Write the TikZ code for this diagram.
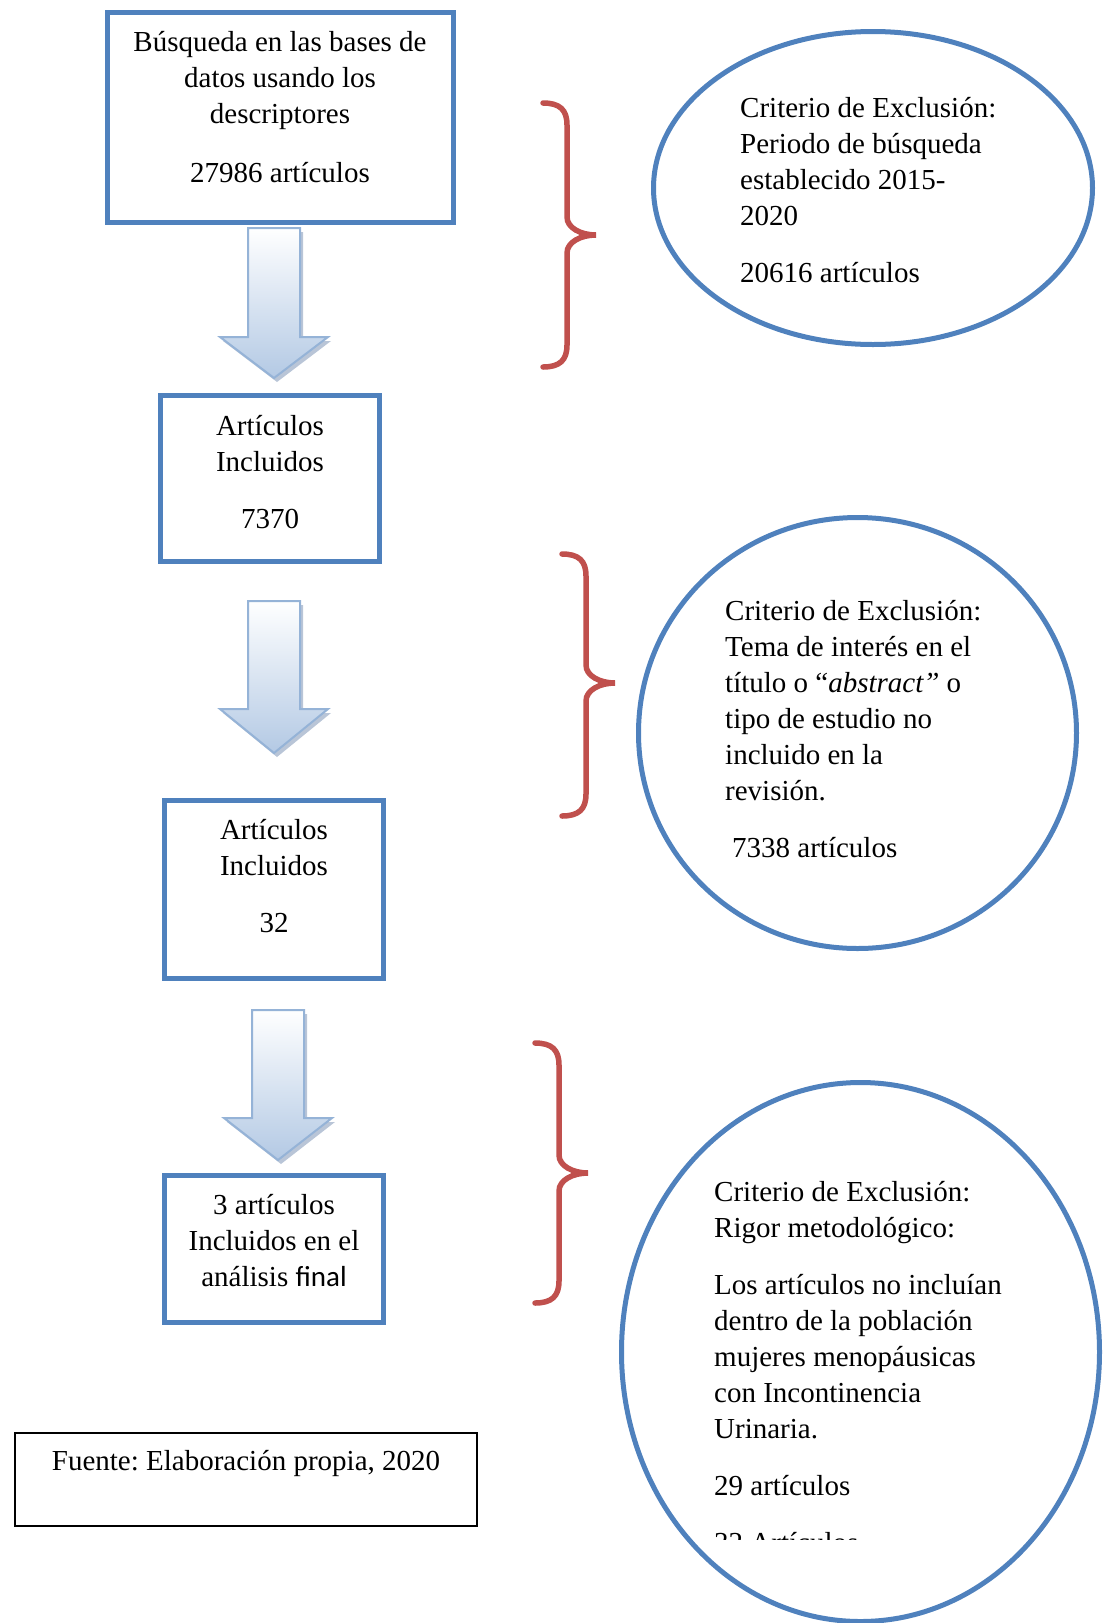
\documentclass[tikz,border=0pt]{standalone}
\usepackage{fontspec}
\setmainfont{Liberation Serif}
\newfontfamily\calibri{Carlito}
\usepackage{xcolor}
\usepackage{tikz}
\usetikzlibrary{shapes.geometric}
\frenchspacing

\definecolor{boxblue}{HTML}{4F81BD}
\definecolor{bracered}{HTML}{C0504D}
\definecolor{arrowline}{HTML}{95B3D7}
\definecolor{arrowfill}{HTML}{B3C9E4}
\definecolor{arrowshadow}{HTML}{8A9FBD}

% block arrow: x centre, top, start of head, tip
\newcommand{\flecha}[4]{%
  \fill[arrowshadow, opacity=.6, shift={(3,4)}] (#1-26,#2) -- (#1+26,#2) -- (#1+26,#3) -- (#1+54,#3) -- (#1,#4) -- (#1-54,#3) -- (#1-26,#3) -- cycle;
  \draw[arrowline, line width=2pt, top color=white, bottom color=arrowfill] (#1-26,#2) -- (#1+26,#2) -- (#1+26,#3) -- (#1+54,#3) -- (#1,#4) -- (#1-54,#3) -- (#1-26,#3) -- cycle;}

% curly brace: x of the ends, top, tip, bottom
\newcommand{\llave}[4]{%
  \draw[bracered, line width=5.5pt, line cap=round] (#1,#2) .. controls (#1+17,#2) and (#1+24,#2+7) .. (#1+24,#2+22) -- (#1+24,#3-18) .. controls (#1+24,#3-7) and (#1+38,#3) .. (#1+53,#3) .. controls (#1+38,#3) and (#1+24,#3+7) .. (#1+24,#3+18) -- (#1+24,#4-22) .. controls (#1+24,#4-7) and (#1+17,#4) .. (#1,#4);}

\begin{document}
\begin{tikzpicture}[x=1pt, y=-1pt,
    caja/.style={draw=boxblue, line width=5pt, minimum width=219pt, inner sep=0pt},
    crit/.style={ellipse, draw=boxblue, line width=5pt, inner sep=0pt},
    texto/.style={inner sep=0pt, font=\fontsize{29}{36}\selectfont, align=center}]
    \useasboundingbox (0,0) rectangle (1109,1623);

    % flow boxes
    \node[caja, minimum width=346pt, minimum height=210pt] (busq) at (280.5,117.5) {};
    \node[caja, minimum height=166pt] (incl1) at (270,478.5) {};
    \node[caja, minimum height=178pt] (incl2) at (274,889.5) {};
    \node[caja, minimum height=147pt] (final) at (274,1249) {};
    \node[draw=black, line width=2pt, minimum width=462pt, minimum height=93pt] (fuente) at (246,1479.5) {};

    % exclusion criteria
    \node[crit, minimum width=439pt, minimum height=313pt] (excl1) at (873,188) {};
    \node[crit, minimum width=438pt, minimum height=431pt] (excl2) at (857.5,733) {};
    \node[crit, minimum width=478pt, minimum height=539pt] (excl3) at (860.5,1352) {};

    \flecha{274}{228}{337}{378}
    \flecha{274}{601}{709}{753}
    \flecha{278}{1010}{1118}{1160}

    \llave{543}{103}{235}{367}
    \llave{562}{554}{683}{816}
    \llave{535}{1043}{1173}{1303}

    % texts
    \node[texto, anchor=north] (tbusq) at (280,31) {Búsqueda en las bases de\\datos usando los\\descriptores\\[23pt]27986 artículos};
    \node[texto, anchor=north] (tincl1) at (270,415) {Artículos\\Incluidos\\[21pt]7370};
    \node[texto, anchor=north] (tincl2) at (274,819) {Artículos\\Incluidos\\[21pt]32};
    \node[texto, anchor=north] (tfinal) at (274,1194) {3 artículos\\Incluidos en el\\análisis {\calibri final}};
    \node[texto, anchor=north] (tfuente) at (246,1450) {Fuente: Elaboración propia, 2020};

    \node[texto, align=left, anchor=north west] (texcl1) at (740,97) {Criterio de Exclusión:\\Periodo de búsqueda\\establecido 2015-\\2020\\[21pt]20616 artículos};
    \node[texto, align=left, anchor=north west] (texcl2) at (725,600) {Criterio de Exclusión:\\Tema de interés en el\\título o “\textit{abstract”} o\\tipo de estudio no\\incluido en la\\revisión.\\[21pt]\hspace*{7pt}7338 artículos};
    \begin{scope}
        \clip (600,1000) rectangle (1109,1539);
        \node[texto, align=left, anchor=north west] (texcl3) at (714,1181) {Criterio de Exclusión:\\Rigor metodológico:\\[21pt]Los artículos no incluían\\dentro de la población\\mujeres menopáusicas\\con Incontinencia\\Urinaria.\\[21pt]29 artículos\\[21pt]32 Artículos};
    \end{scope}
\end{tikzpicture}
\end{document}
